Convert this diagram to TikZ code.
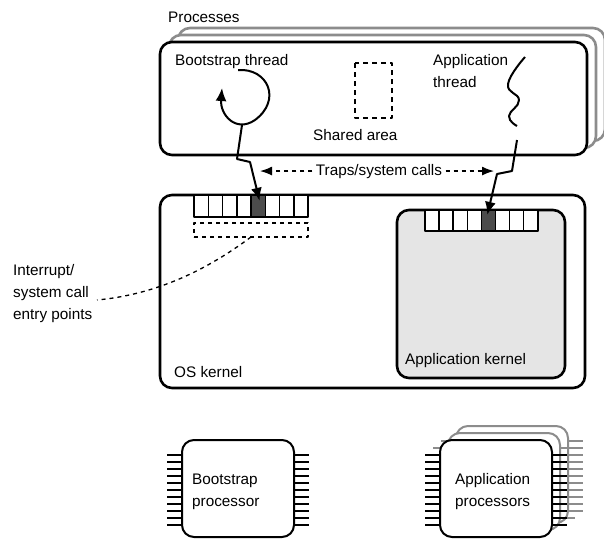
\documentclass[tikz,border=0pt]{standalone}
\usepackage{fontspec}
\setmainfont{Liberation Sans}
\usetikzlibrary{arrows.meta}
\begin{document}
\begin{tikzpicture}[x=1pt,y=-1pt,line join=round,>={Latex[length=13pt,width=11pt]},
    font=\fontsize{15.3}{22}\selectfont,
    box/.style={line width=2.6pt,rounded corners=12pt},
    shade/.style={box,draw=black!45,fill=white},
    cell/.style={draw,line width=1.5pt,fill=white,minimum width=14.25pt,minimum height=22pt,inner sep=0pt,outer sep=0pt},
    hot/.style={cell,fill=black!70},
    dashline/.style={line width=1.3pt,dash pattern=on 4pt off 4pt},
    lbl/.style={anchor=base west,inner sep=0pt},
    thread/.style={line width=2pt}]
    \useasboundingbox (0,0) rectangle (604,538);
    \clip (0,0) rectangle (604,538);
    % processes
    \foreach \s in {2,1}
        \draw[shade] (160+9*\s,42-7*\s) rectangle (587+9*\s,155-7*\s);
    \draw[box,fill=white] (160,42) rectangle (587,155);
    \node[lbl] (proc) at (168,22) {Processes};
    \node[lbl] (bthr) at (175,65) {Bootstrap thread};
    \node[lbl,align=left] (athr) at (433,87) {Application\\thread};
    \draw[line width=2pt,dash pattern=on 5pt off 4pt] (355,63) rectangle (392,118);
    \node[lbl] (shar) at (313,140) {Shared area};
    \draw[thread,->] (238,70) .. controls (268,68) and (282,100) .. (255,120)
        .. controls (236,133) and (220,115) .. (222,88);
    \draw[thread] plot[smooth,tension=.8] coordinates {(525,57) (508,84) (519,100) (509,116) (517,126)};
    % kernels
    \draw[box] (160,195) rectangle (585,388);
    \draw[box,fill=black!10] (397,210) rectangle (565,378);
    \foreach \i in {1,...,8}{
        \node[cell] (os\i) at (194+14.25*\i-7.125,206) {};
        \node[cell,minimum width=14.1pt,minimum height=21pt] (ap\i) at (425+14.1*\i-7.05,220.5) {};
    }
    \node[hot] (oshot) at (os5) {};
    \node[hot,minimum width=14.1pt,minimum height=21pt] (aphot) at (ap5) {};
    \node[dashline,draw,minimum width=114pt,minimum height=14pt,inner sep=0pt,outer sep=0pt] (ept) at (251,230) {};
    \node[lbl,align=left] (intr) at (13,319) {Interrupt/\\system call\\entry points};
    \coordinate (intrEnd) at (97,300);
    \draw[dashline] (ept.south) .. controls (200,275) and (150,295) .. (intrEnd);
    \node[lbl] (oskl) at (174,377) {OS kernel};
    \node[lbl] (apkl) at (405,364) {Application kernel};
    % traps
    \coordinate (bootEnd) at (242,125);
    \coordinate (appEnd) at (517,140);
    \draw[thread,->,shorten >=-6pt] (bootEnd) -- (237,159) -- (250,162) -- (oshot.north);
    \draw[thread,->,shorten >=-5pt] (appEnd) -- (512,171) -- (497,174) -- (aphot.north);
    \node[anchor=base] (traps) at (379,175) {Traps/system calls};
    \coordinate (trapL) at (260,0 |- traps.west);
    \coordinate (trapR) at (494,0 |- traps.east);
    \draw[dashline,-{Latex[length=12pt,width=9pt]}] (traps.west) -- (trapL);
    \draw[dashline,-{Latex[length=12pt,width=9pt]}] (traps.east) -- (trapR);
    % processors
    \foreach \x/\dx/\dy/\c in {182/0/0/black,440/16/-14/black!45,440/8/-7/black!45,440/0/0/black}{
        \begin{scope}[shift={(\dx,\dy)},color=\c]
            \foreach \k in {0,...,10}
                \draw[line width=2pt] (\x-15,455+7*\k) -- (\x,455+7*\k) (\x+112,455+7*\k) -- (\x+127,455+7*\k);
            \draw[line width=2pt,rounded corners=12pt,fill=white] (\x,440) rectangle (\x+112,537);
        \end{scope}
    }
    \node[lbl,align=left] (bcpu) at (192,506) {Bootstrap\\processor};
    \node[lbl,align=left] (acpu) at (455,506) {Application\\processors};
\end{tikzpicture}
\end{document}
